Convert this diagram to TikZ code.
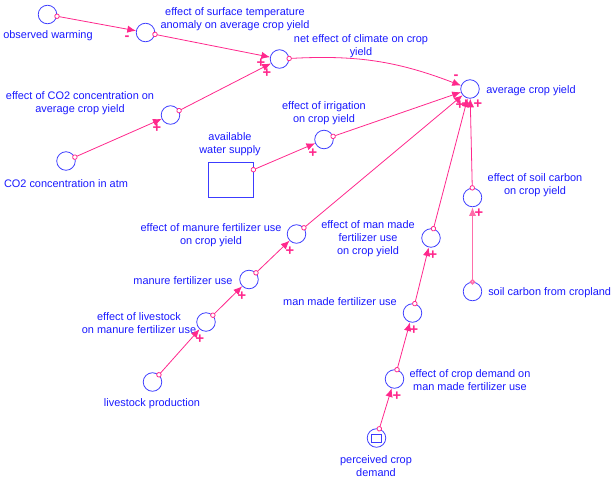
\documentclass[tikz,border=0pt]{standalone}
\usepackage{fontspec}
\setmainfont{Liberation Sans}
\usetikzlibrary{arrows.meta}

\definecolor{varblue}{RGB}{60,60,255}
\definecolor{txtblue}{RGB}{25,25,255}
\definecolor{linkpink}{RGB}{255,40,140}
\definecolor{softpink}{RGB}{255,110,170}

\tikzset{
  var/.style={circle, draw=varblue, line width=0.6pt, minimum size=13.9pt, inner sep=0pt},
  lbl/.style={text=txtblue, font=\fontsize{8.2}{9.75}\selectfont, align=center, inner sep=0pt, yshift=-1.2pt},
  link/.style={draw=linkpink, line width=0.6pt, shorten <=-2pt,
    {Circle[open, length=4pt, width=4pt, fill=white]}-{Latex[length=6.5pt, width=5.5pt]}},
  sign/.style={text=linkpink, font=\fontsize{11}{11}\selectfont\bfseries, inner sep=0pt}
}

\begin{document}
\begin{tikzpicture}[x=0.75pt, y=-0.75pt]
	\useasboundingbox (0,0) rectangle (612,480);

	% variables
	\node[var] (ow) at (47.5,14.5) {};
	\node[var] (est) at (145.5,32.5) {};
	\node[var] (nec) at (279.5,59) {};
	\node[var] (eco) at (170.5,115) {};
	\node[var] (cco) at (66,161) {};
	\node[var] (acy) at (470,89) {};
	\node[var] (eir) at (324,139.5) {};
	\node[draw=varblue, line width=0.6pt, minimum width=33.75pt, minimum height=26.25pt, inner sep=0pt] (aws) at (230.5,179.5) {};
	\node[var] (esc) at (472.5,197.5) {};
	\node[var] (scc) at (472.5,291.5) {};
	\node[var] (emm) at (431,238) {};
	\node[var] (emf) at (296.5,234) {};
	\node[var] (mfu) at (249,279.5) {};
	\node[var] (elv) at (206,322) {};
	\node[var] (lvp) at (152.5,382) {};
	\node[var] (mmu) at (412.5,313) {};
	\node[var] (ecd) at (394.5,379) {};
	\node[var] (pcd) at (376.5,438) {};
	\draw[varblue, line width=0.6pt] ([xshift=-3.75pt, yshift=-3pt]pcd.center) rectangle ([xshift=3.75pt, yshift=3pt]pcd.center);

	% labels
	\node[lbl] (ow-l) at (48,34) {observed warming};
	\node[lbl] (est-l) at (235,17.5) {effect of surface temperature\\anomaly on average crop yield};
	\node[lbl] (nec-l) at (361,44.5) {net effect of climate on crop\\yield};
	\node[lbl] (eco-l) at (80,102) {effect of CO2 concentration on\\average crop yield};
	\node[lbl] (cco-l) at (66,182) {CO2 concentration in atm};
	\node[lbl, anchor=west] (acy-l) at (486,89) {average crop yield};
	\node[lbl] (eir-l) at (324,111.5) {effect of irrigation\\on crop yield};
	\node[lbl] (aws-l) at (230,142.5) {available\\water supply};
	\node[lbl] (esc-l) at (535,183.5) {effect of soil carbon\\on crop yield};
	\node[lbl, anchor=west] (scc-l) at (488,291.5) {soil carbon from cropland};
	\node[lbl] (emm-l) at (368,237) {effect of man made\\fertilizer use\\on crop yield};
	\node[lbl] (emf-l) at (211,233.5) {effect of manure fertilizer use\\on crop yield};
	\node[lbl] (mfu-l) at (183,279) {manure fertilizer use};
	\node[lbl] (elv-l) at (139,321.5) {effect of livestock\\on manure fertilizer use};
	\node[lbl] (lvp-l) at (152,402) {livestock production};
	\node[lbl] (mmu-l) at (340,300) {man made fertilizer use};
	\node[lbl] (ecd-l) at (470,378.5) {effect of crop demand on\\man made fertilizer use};
	\node[lbl] (pcd-l) at (376,464.5) {perceived crop\\demand};

	% links
	\draw[link] (ow) -- (est);
	\draw[link] (est) -- (nec);
	\draw[link] (eco) -- (nec);
	\draw[link] (cco) -- (eco);
	\draw[link] (nec) to[bend left=12] (acy);
	\draw[link] (eir) -- (acy);
	\draw[link] (aws) -- (eir);
	\draw[link] (emf) -- (acy);
	\draw[link] (emm) -- (acy);
	\draw[link] (esc) -- (acy);
	\draw[link, draw=softpink, line width=1.2pt] (scc) -- (esc);
	\draw[link] (mfu) -- (emf);
	\draw[link] (elv) -- (mfu);
	\draw[link] (lvp) -- (elv);
	\draw[link] (mmu) -- (emm);
	\draw[link] (ecd) -- (mmu);
	\draw[link] (pcd) -- (ecd);

	% polarities
	\node[sign] (s-ow) at (127,38) {-};
	\node[sign] (s-est) at (261,63) {+};
	\node[sign] (s-eco) at (267,73) {+};
	\node[sign] (s-cco) at (157,128) {+};
	\node[sign] (s-nec) at (456,77) {-};
	\node[sign] (s-eir) at (460,105) {+};
	\node[sign] (s-emf) at (466,104) {+};
	\node[sign] (s-esc) at (478,104) {+};
	\node[sign] (s-aws) at (313,153) {+};
	\node[sign] (s-scc) at (479,213) {+};
	\node[sign] (s-mfu) at (290,251) {+};
	\node[sign] (s-elv) at (242,296) {+};
	\node[sign] (s-lvp) at (200,339) {+};
	\node[sign] (s-mmu) at (433,255) {+};
	\node[sign] (s-ecd) at (414,330) {+};
	\node[sign] (s-pcd) at (397,396) {+};
\end{tikzpicture}
\end{document}
